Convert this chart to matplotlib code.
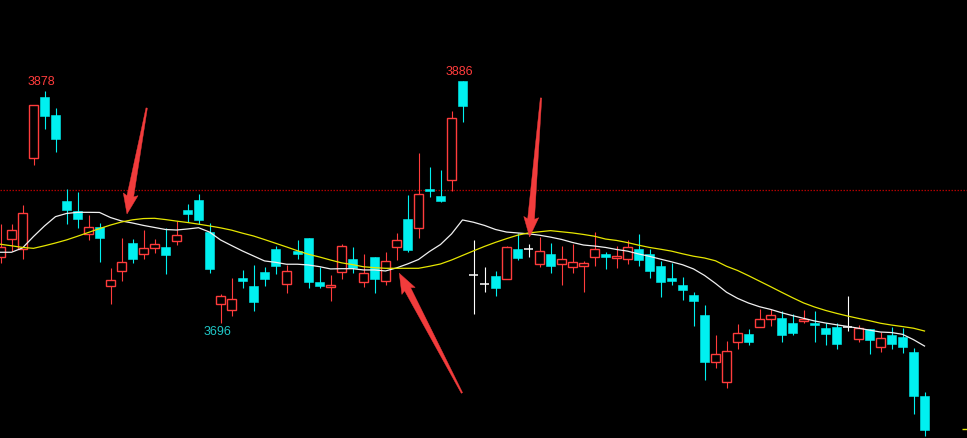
import matplotlib
matplotlib.use("Agg")
import matplotlib.pyplot as plt
import numpy as np
from matplotlib.patches import Rectangle, Polygon

# ---------------- data ----------------
opens = [3747.3, 3761.8, 3754.0, 3825.7, 3873.5, 3859.3, 3791.7, 3783.9, 3765.5, 3771.3,
         3724.7, 3736.9, 3758.7, 3750.3, 3755.0, 3755.6, 3760.5, 3784.6, 3792.5, 3767.3,
         3710.5, 3705.8, 3731.4, 3725.1, 3735.9, 3754.0, 3726.2, 3752.4, 3762.6, 3728.0,
         3724.4, 3735.7, 3746.1, 3727.8, 3747.5, 3728.6, 3755.3, 3777.6, 3770.3, 3801.4,
         3795.6, 3808.0, 3886.0, 3733.3, 3726.5, 3732.8, 3730.6, 3754.0, 3754.2, 3742.4,
         3750.1, 3742.4, 3740.1, 3740.4, 3747.5, 3750.1, 3746.7, 3745.9, 3754.0, 3750.1,
         3740.6, 3731.4, 3725.7, 3717.8, 3702.1, 3664.9, 3649.7, 3680.6, 3686.9, 3692.4,
         3699.2, 3699.8, 3695.8, 3697.6, 3695.8, 3691.9, 3692.7, 3692.9, 3683.0, 3690.9,
         3676.7, 3686.2, 3684.8, 3673.0, 3638.4]
highs = [3773.6, 3773.6, 3788.6, 3867.2, 3878.2, 3864.8, 3801.1, 3798.8, 3780.7, 3774.2,
         3739.1, 3762.6, 3761.6, 3768.9, 3761.8, 3770.3, 3775.8, 3789.4, 3797.2, 3774.4,
         3718.6, 3731.2, 3737.5, 3741.4, 3739.8, 3756.1, 3741.2, 3761.1, 3762.6, 3740.1,
         3733.5, 3757.9, 3755.6, 3750.1, 3747.5, 3751.6, 3766.6, 3796.4, 3829.4, 3818.4,
         3816.1, 3862.2, 3886.0, 3761.1, 3739.8, 3736.7, 3756.3, 3766.3, 3757.9, 3763.4,
         3758.7, 3756.3, 3757.9, 3744.3, 3767.3, 3751.9, 3756.3, 3761.1, 3765.8, 3754.0,
         3744.6, 3743.0, 3732.0, 3720.2, 3710.0, 3686.4, 3681.7, 3695.0, 3691.1, 3706.8,
         3706.8, 3705.3, 3702.9, 3706.0, 3705.3, 3696.1, 3695.8, 3717.0, 3694.2, 3690.9,
         3689.0, 3692.4, 3691.9, 3675.9, 3641.4]
lows = [3743.0, 3752.4, 3746.1, 3820.2, 3848.3, 3830.2, 3773.6, 3770.7, 3761.3, 3744.0,
        3711.0, 3729.1, 3743.2, 3746.4, 3750.8, 3734.6, 3757.1, 3775.2, 3773.9, 3735.4,
        3696.1, 3701.3, 3723.6, 3705.5, 3725.1, 3734.6, 3719.6, 3746.4, 3723.6, 3723.6,
        3713.4, 3730.4, 3734.9, 3724.4, 3719.6, 3725.5, 3745.6, 3751.9, 3762.4, 3795.1,
        3790.9, 3799.8, 3854.0, 3702.7, 3720.2, 3717.3, 3730.6, 3745.3, 3747.9, 3740.1,
        3735.4, 3725.7, 3735.4, 3720.2, 3740.9, 3738.3, 3739.3, 3742.2, 3740.6, 3731.2,
        3716.5, 3725.7, 3714.1, 3693.7, 3651.3, 3660.2, 3645.0, 3675.6, 3678.8, 3692.4,
        3693.7, 3681.1, 3686.6, 3695.6, 3681.1, 3678.8, 3675.6, 3689.8, 3681.1, 3671.2,
        3673.3, 3675.6, 3672.0, 3624.5, 3607.2]
closes = [3755.6, 3768.9, 3782.3, 3867.2, 3858.8, 3840.7, 3784.9, 3777.8, 3771.3, 3762.9,
          3729.6, 3743.8, 3746.4, 3754.8, 3757.9, 3749.5, 3765.0, 3781.7, 3777.0, 3738.5,
          3717.0, 3714.7, 3729.1, 3712.6, 3730.4, 3740.9, 3736.5, 3750.3, 3728.3, 3725.1,
          3725.7, 3756.3, 3738.8, 3734.9, 3730.6, 3744.3, 3760.8, 3753.4, 3797.0, 3799.3,
          3791.9, 3856.7, 3866.6, 3733.3, 3726.5, 3723.6, 3755.3, 3746.9, 3754.2, 3752.2,
          3740.9, 3745.9, 3743.5, 3742.7, 3753.7, 3747.7, 3748.2, 3755.3, 3745.3, 3737.0,
          3728.3, 3729.1, 3722.0, 3713.4, 3665.4, 3671.2, 3673.6, 3687.7, 3681.1, 3698.7,
          3701.9, 3686.6, 3688.2, 3699.2, 3694.5, 3687.4, 3679.6, 3692.9, 3692.1, 3682.7,
          3683.8, 3679.1, 3676.7, 3638.7, 3612.0]

ma_white = [3751.4, 3751.4, 3754.8, 3763.8, 3772.1, 3779.4, 3781.9, 3782.8, 3782.8, 3782.7,
            3778.7, 3776.0, 3774.4, 3772.5, 3770.9, 3769.3, 3768.9, 3769.7, 3770.7, 3767.3,
            3761.1, 3756.7, 3752.4, 3748.5, 3744.6, 3743.5, 3742.0, 3742.0, 3741.4, 3740.1,
            3738.3, 3738.5, 3738.5, 3737.5, 3737.5, 3736.7, 3739.1, 3742.2, 3745.7, 3752.0,
            3757.5, 3765.8, 3776.8, 3775.0, 3772.5, 3769.3, 3767.3, 3766.6, 3765.9, 3764.8,
            3763.3, 3761.5, 3759.1, 3757.1, 3756.3, 3755.2, 3753.6, 3752.3, 3750.1, 3748.2,
            3746.0, 3743.9, 3741.6, 3738.3, 3733.2, 3726.9, 3720.0, 3715.2, 3711.5, 3708.6,
            3706.5, 3703.9, 3701.6, 3699.5, 3697.4, 3695.8, 3694.4, 3693.1, 3691.7, 3690.2,
            3688.7, 3688.3, 3686.9, 3682.7, 3677.7]
ma_yellow = [3757.7, 3756.5, 3755.2, 3754.5, 3756.5, 3758.7, 3761.1, 3764.0, 3767.0, 3770.0,
             3772.8, 3775.2, 3776.9, 3777.9, 3778.1, 3777.1, 3775.9, 3774.8, 3773.5, 3772.1,
             3770.6, 3768.8, 3766.4, 3764.2, 3761.4, 3758.5, 3755.6, 3752.6, 3749.8, 3747.7,
             3745.3, 3743.1, 3741.7, 3740.0, 3739.3, 3738.8, 3738.8, 3738.8, 3738.8, 3740.4,
             3742.2, 3745.3, 3748.9, 3752.5, 3756.0, 3759.2, 3762.1, 3764.8, 3766.6, 3767.5,
             3768.4, 3767.5, 3766.6, 3765.4, 3764.0, 3761.8, 3760.7, 3759.0, 3757.0, 3755.2,
             3753.8, 3752.3, 3750.2, 3748.3, 3746.9, 3744.7, 3740.4, 3737.1, 3733.0, 3728.7,
             3724.4, 3720.0, 3715.7, 3711.6, 3708.4, 3705.7, 3703.4, 3701.3, 3699.4, 3697.6,
             3695.6, 3694.2, 3693.0, 3691.7, 3689.5]

ref_price = 3800.4
labels = ["3878", "3886", "3696"]
label_pos = [(3.7, 3885.0), (41.7, 3892.9), (19.7, 3689.0)]
label_colors = ["#ff3c3c", "#ff3c3c", "#20c8c8"]
# arrows: (tail, tip) in (index, price)
arrows = [((13.29, 3864.8), (11.5, 3781.5)),
          ((41.95, 3640.8), (36.25, 3734.9)),
          ((49.14, 3872.7), (48.1, 3763.4))]

# ---------------- drawing ----------------
UP = "#ff3c3c"
DOWN = "#00f0f0"
DOJI = "#ffffff"

fig = plt.figure(figsize=(9.67, 4.38), dpi=100)
fig.patch.set_facecolor("black")
ax = fig.add_axes([0, 0, 1, 1])
ax.set_facecolor("black")
ax.set_xlim(-0.5 / 11, 966.5 / 11)
ax.set_ylim(3605.4, 3949.7)
ax.axis("off")

bw = 0.73
lw = 0.8
n = len(opens)
for i in range(n):
    o, h, l, c = opens[i], highs[i], lows[i], closes[i]
    if c > o:
        ax.vlines(i, l, h, color=UP, lw=lw, zorder=2)
        ax.add_patch(Rectangle((i - bw / 2, o), bw, c - o, facecolor="black",
                               edgecolor=UP, lw=1.0, zorder=3))
    elif c < o:
        ax.vlines(i, l, h, color=DOWN, lw=lw, zorder=2)
        ax.add_patch(Rectangle((i - bw / 2, c), bw, o - c, facecolor=DOWN,
                               edgecolor=DOWN, lw=0.4, zorder=3))
    else:
        ax.vlines(i, l, h, color=DOJI, lw=lw, zorder=2)
        ax.hlines(o, i - bw / 2, i + bw / 2, color=DOJI, lw=1.1, zorder=3)

x = np.arange(n)
ax.plot(x, ma_white, color="#f0f0f0", lw=0.9, zorder=4)
ax.plot(x, ma_yellow, color="#e6e600", lw=0.9, zorder=4)

ax.axhline(ref_price, color="#b00000", lw=0.9, ls=(0, (1.2, 1.2)), zorder=1)

# small yellow tick at bottom-right edge
ax.hlines(3612.5, 87.45, 87.9, color="#e6e600", lw=1.0, zorder=4)

for t, (px, py), col in zip(labels, label_pos, label_colors):
    ax.text(px, py, t, color=col, fontsize=9, family="Liberation Sans",
            ha="center", va="center", zorder=5)

# tapered red arrows, shaped in display space
fig.canvas.draw()
to_disp = ax.transData
to_data = ax.transData.inverted()
for tail, tip in arrows:
    t = to_disp.transform(tail)
    p = to_disp.transform(tip)
    d = p - t
    L = np.hypot(*d)
    u = d / L
    nrm = np.array([-u[1], u[0]])
    hl, hw, sw, tw = 18.0, 7.5, 3.4, 0.7
    base = p - u * hl
    pts = [t + nrm * tw, base + nrm * sw, base - u * 2 + nrm * hw, p,
           base - u * 2 - nrm * hw, base - nrm * sw, t - nrm * tw]
    pts = to_data.transform(np.array(pts))
    ax.add_patch(Polygon(pts, closed=True, facecolor="#f23c3c",
                         edgecolor="#f23c3c", lw=0.3, zorder=6))

fig.savefig("out.png", dpi=100, facecolor="black")
